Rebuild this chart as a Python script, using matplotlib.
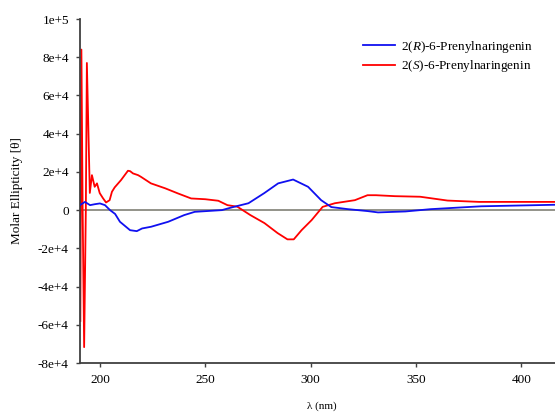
import numpy as np
import matplotlib
matplotlib.use('Agg')
import matplotlib.pyplot as plt

plt.rc('font', family='Liberation Serif', size=9.5)
plt.rc('mathtext', fontset='custom', rm='Liberation Serif', it='Liberation Serif:italic')

# CD spectrum of 2(R)-6-prenylnaringenin
wl_r = [190.5, 192.9, 195.3, 197.6, 200.0, 202.4, 204.8, 207.2, 209.5, 214.3,
        217.5, 220.0, 224.3, 232.4, 240.0, 245.0, 257.9, 262.5, 270.5, 278.0,
        284.6, 291.7, 298.8, 305.0, 309.8, 317.7, 327.0, 332.0, 345.0, 357.0,
        381.0, 416.0]
theta_r = [2600, 4300, 2600, 3100, 3500, 2600, 0, -2000, -6100, -10500,
           -11000, -9600, -8700, -6100, -2600, -900, 0, 1400, 3600, 8900,
           14000, 16000, 12200, 5200, 1600, 500, -500, -1200, -700, 500,
           2000, 2800]

# CD spectrum of 2(S)-6-prenylnaringenin
wl_s = [190.7, 191.2, 191.8, 192.5, 193.3, 193.8, 195.2, 196.2, 197.5, 198.6,
        199.9, 201.4, 202.9, 204.6, 205.7, 207.0, 210.0, 213.3, 214.3, 215.7,
        218.1, 219.5, 224.2, 231.0, 237.1, 243.3, 250.0, 256.2, 260.5, 265.2,
        271.4, 278.1, 284.3, 289.0, 292.0, 295.7, 300.5, 305.7, 311.5, 321.0,
        327.0, 331.0, 340.0, 352.0, 365.0, 380.0, 395.0, 416.0]
theta_s = [-58000, 84000, 0, -71700, 0, 77000, 9000, 18300, 12200, 14000,
           8900, 6300, 4000, 5200, 9600, 11900, 15700, 20600, 20400, 19200,
           18300, 17400, 14000, 11400, 8700, 6100, 5700, 4900, 2600, 1800,
           -2600, -6800, -12000, -15300, -15300, -10500, -5200, 1700, 3600, 5200,
           7800, 7800, 7300, 7000, 5000, 4300, 4300, 4300]

x_ticks = [200, 250, 300, 350, 400]
y_ticks = [-80000, -60000, -40000, -20000, 0, 20000, 40000, 60000, 80000, 100000]
y_ticklabels = ['-8e+4', '-6e+4', '-4e+4', '-2e+4', '0', '2e+4', '4e+4', '6e+4', '8e+4', '1e+5']

fig = plt.figure(figsize=(5.55, 4.16), dpi=100)
ax = fig.add_axes([0.144, 0.1274, 0.856, 0.8269])

ax.axhline(0, color='#8a8a80', lw=1.3, zorder=1)
ax.plot(wl_r, theta_r, color='#1010f0', lw=1.3, label=r'2($\mathit{R}$)-6-Prenylnaringenin', zorder=3)
ax.plot(wl_s, theta_s, color='#ff0000', lw=1.3, label=r'2($\mathit{S}$)-6-Prenylnaringenin', zorder=2)

ax.set_xlim(190.5, 416)
ax.set_ylim(-80000, 100000)
ax.set_xticks(x_ticks)
ax.set_yticks(y_ticks)
ax.set_yticklabels(y_ticklabels)

ax.spines['top'].set_visible(False)
ax.spines['right'].set_visible(False)
ax.spines['left'].set_color('#404040')
ax.spines['bottom'].set_color('#404040')
ax.spines['left'].set_linewidth(1.3)
ax.spines['bottom'].set_linewidth(1.3)
ax.tick_params(length=3, width=1, color='#404040', pad=5, labelsize=9.5)

ax.set_xlabel(r'λ (nm)', fontsize=8)
ax.xaxis.set_label_coords(0.51, -0.112)
ax.set_ylabel('Molar Ellipticity [θ]', fontsize=9.5)
ax.yaxis.set_label_coords(-0.12, 0.5)

ax.legend(loc='upper left', bbox_to_anchor=(0.633, 0.935), bbox_transform=fig.transFigure,
          frameon=False, handlelength=2.4, handletextpad=0.5, labelspacing=0.25, fontsize=9.5)

plt.savefig('out.png', dpi=100)
